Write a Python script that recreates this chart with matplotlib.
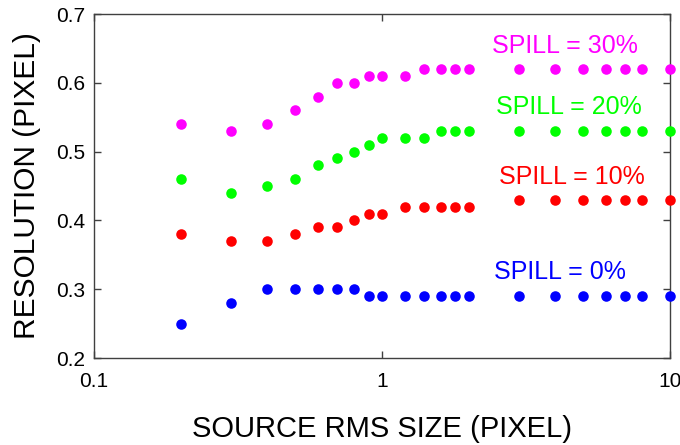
import matplotlib
matplotlib.use("Agg")
import matplotlib.pyplot as plt
from matplotlib.ticker import FixedLocator, FixedFormatter, NullLocator

plt.rcParams["font.family"] = ["Liberation Sans", "DejaVu Sans"]

# Datos
tamano = [0.2, 0.3, 0.4, 0.5, 0.6, 0.7, 0.8, 0.9, 1.0, 1.2, 1.4, 1.6, 1.8, 2.0,
          3, 4, 5, 6, 7, 8, 10]

spill_30 = [0.54, 0.53, 0.54, 0.56, 0.58, 0.60, 0.60, 0.61, 0.61, 0.61, 0.62,
            0.62, 0.62, 0.62, 0.62, 0.62, 0.62, 0.62, 0.62, 0.62, 0.62]
spill_20 = [0.46, 0.44, 0.45, 0.46, 0.48, 0.49, 0.50, 0.51, 0.52, 0.52, 0.52,
            0.53, 0.53, 0.53, 0.53, 0.53, 0.53, 0.53, 0.53, 0.53, 0.53]
spill_10 = [0.38, 0.37, 0.37, 0.38, 0.39, 0.39, 0.40, 0.41, 0.41, 0.42, 0.42,
            0.42, 0.42, 0.42, 0.43, 0.43, 0.43, 0.43, 0.43, 0.43, 0.43]
spill_0 = [0.25, 0.28, 0.30, 0.30, 0.30, 0.30, 0.30, 0.29, 0.29, 0.29, 0.29,
           0.29, 0.29, 0.29, 0.29, 0.29, 0.29, 0.29, 0.29, 0.29, 0.29]

series = [
    (spill_30, "#ff00ff", "SPILL = 30%", 2.42, 0.644),
    (spill_20, "#00ff00", "SPILL = 20%", 2.50, 0.555),
    (spill_10, "#ff0000", "SPILL = 10%", 2.55, 0.4535),
    (spill_0, "#0000ff", "SPILL = 0%", 2.45, 0.3155),
]

x_ticks = [0.1, 1, 10]
x_tick_labels = ["0.1", "1", "10"]
y_ticks = [0.2, 0.3, 0.4, 0.5, 0.6, 0.7]

fig = plt.figure(figsize=(6.8, 4.45), dpi=100)
ax = fig.add_axes([0.138, 0.1955, 0.847, 0.773])

for valores, color, etiqueta, tx, ty in series:
    ax.plot(tamano, valores, "o", color=color, markersize=7.6,
            markeredgewidth=0, clip_on=False, zorder=3)
    ax.text(tx, ty, etiqueta, color=color, fontsize=18,
            ha="left", va="baseline")

ax.set_xscale("log")
ax.set_xlim(0.1, 10)
ax.set_ylim(0.2, 0.7)

ax.xaxis.set_major_locator(FixedLocator(x_ticks))
ax.xaxis.set_major_formatter(FixedFormatter(x_tick_labels))
ax.xaxis.set_minor_locator(NullLocator())
ax.set_yticks(y_ticks)
ax.set_yticklabels([f"{v:.1f}" for v in y_ticks])

ax.tick_params(direction="in", length=5, width=1, color="#404040",
               top=True, right=True, labelsize=15, pad=6)
ax.tick_params(axis="x", pad=10)

for s in ax.spines.values():
    s.set_color("#404040")
    s.set_linewidth(1)

ax.set_xlabel("SOURCE RMS SIZE (PIXEL)", fontsize=21, labelpad=17)
ax.set_ylabel("RESOLUTION (PIXEL)", fontsize=21.5, labelpad=11)

fig.savefig("out.png", dpi=100)
plt.close(fig)
